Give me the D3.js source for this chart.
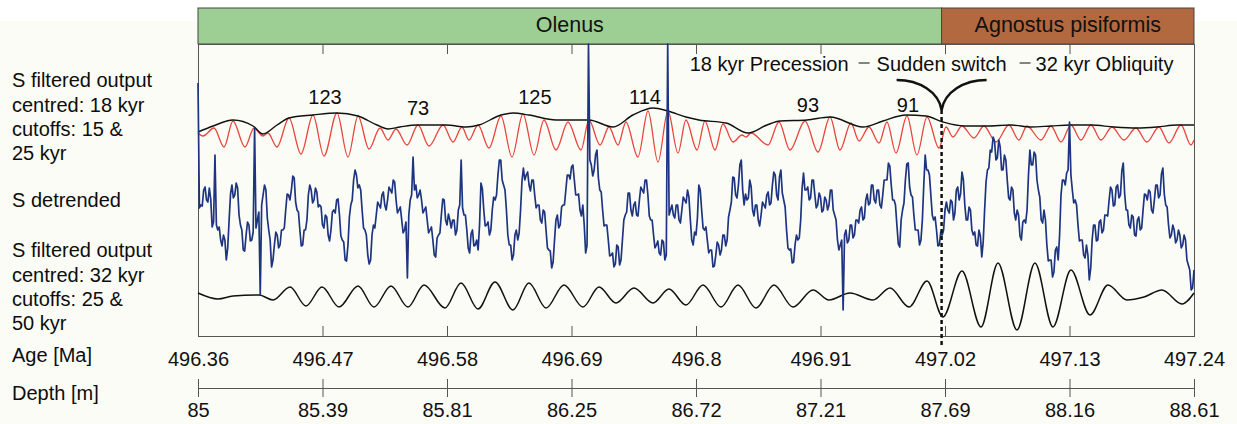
<!DOCTYPE html>
<html lang="en">
<head>
<meta charset="UTF-8">
<title>S record: precession to obliquity switch</title>
<script src="https://cdnjs.cloudflare.com/ajax/libs/d3/7.8.5/d3.min.js"></script>
<style>
    body {
        margin: 0;
        background-color: #fcfcf6;
    }
    svg {
        display: block;
        font-family: "Liberation Sans", Arial, Helvetica, sans-serif;
    }
    .axis path, .axis line {
        stroke: #555;
    }
    .axis text {
        font-family: "Liberation Sans", Arial, Helvetica, sans-serif;
        font-size: 20px;
        fill: #111;
    }
    .label {
        font-size: 20px;
        fill: #0d0d0d;
    }
</style>
</head>
<body>
<div id="chart"></div>
<script>
    // ---- data ----
    const ageTicks = [496.36, 496.47, 496.58, 496.69, 496.8, 496.91, 497.02, 497.13, 497.24];
    const ageTickLabels = ["496.36", "496.47", "496.58", "496.69", "496.8", "496.91", "497.02", "497.13", "497.24"];
    const depthTicks = [85, 85.39, 85.81, 86.25, 86.72, 87.21, 87.69, 88.16, 88.61];
    const depthTickLabels = ["85", "85.39", "85.81", "86.25", "86.72", "87.21", "87.69", "88.16", "88.61"];

    const ageStart = 496.36;          // Ma, times below are kyr after this
    const switchAge = 497.017;        // Ma, biozone boundary / sudden switch
    const zoneNames = ["Olenus", "Agnostus pisiformis"];
    const zoneFrom = [496.36, 497.017];
    const zoneTo = [497.017, 497.24];

    // 18 kyr band-pass output (turning points)
    const prec18Kyr = [0, 4.4, 14.1, 23.0, 30.9, 41.5, 49.5, 57.4, 61.8, 69.8,
        80.4, 91.0, 101.6, 111.3, 122.8, 132.5, 141.4, 151.1, 160.8, 167.9,
        174.9, 184.7, 194.4, 204.1, 216.5, 225.3, 233.2, 239.4, 247.4, 257.1,
        267.7, 277.4, 287.1, 296.9, 305.7, 316.3, 326.9, 338.4, 345.4, 355.2,
        363.1, 371.1, 378.1, 388.7, 397.6, 406.4, 415.2, 424.1, 431.1, 440.9,
        447.9, 456.8, 463.8, 472.7, 480.6, 484.2, 488.6, 503.6, 513.3, 523.0,
        536.3, 547.8, 558.4, 567.2, 576.9, 584.0, 592.8, 601.7, 608.7, 616.7,
        626.4, 635.2, 644.1, 654.7, 660.9, 667.0, 675.0, 685.6, 694.4, 705.0,
        716.5, 725.3, 732.4, 744.8, 753.6, 762.5, 771.3, 780.1, 789.0, 797.8,
        807.5, 818.1, 828.7, 838.4, 849.0, 857.9, 868.5, 877.3, 880.0];
    const prec18Val = [2, -1, 7, -12, 14, -12, 7, -1, 2, -12,
        17, -19, 20, -21, 22, -22, 19, -14, 7, -5,
        6, -10, 10, -11, 10, -7, 8, -5, 10, -13,
        19, -22, 21, -20, 15, -15, 13, -15, 15, -10,
        8, -10, 13, -22, 24, -27, 24, -18, 15, -15,
        14, -15, 11, -7, 0, -2, 2, -10, 13, -15,
        14, -17, 18, -15, 12, -6, 8, -8, 13, -18,
        19, -20, 18, -13, 8, -2, 9, -3, 9, -7,
        10, -5, 9, -5, 9, -7, 10, -5, 10, -5,
        8, -5, 7, -7, 8, -8, 10, -10, -5];

    // amplitude envelope of the 18 kyr output
    const env18Kyr = [0, 13.3, 30.9, 48.6, 57.4, 69.8, 80.4, 101.6, 122.8, 141.4,
        158.1, 167.9, 178.5, 193.5, 219.1, 236.8, 248.3, 267.7, 278.3, 292.4,
        316.3, 345.4, 366.7, 384.3, 402.0, 415.2, 431.1, 442.6, 466.5, 485.9,
        502.7, 514.2, 538.1, 558.4, 587.5, 605.2, 625.5, 643.2, 658.2, 676.8,
        697.1, 718.3, 735.9, 753.6, 770.4, 789.0, 809.3, 829.6, 847.3, 865.0, 880.0];
    const env18Val = [3, 9, 15, 9, 1, 10, 17, 20, 22, 19,
        10, 6, 8, 10, 10, 8, 10, 20, 22, 20,
        15, 15, 8, 20, 27, 24, 18, 15, 12, 2,
        10, 14, 15, 18, 8, 14, 20, 19, 13, 9,
        9, 10, 8, 9, 10, 10, 8, 7, 8, 10, 10];

    // cycle lengths (kyr) written on the envelope
    const cycleLabels = ["123", "73", "125", "114", "93", "91"];
    const cycleKyr = [112.2, 194.4, 297.7, 394.9, 538.9, 627.3];
    const cycleLevel = [31, 20, 31, 31, 23, 23];

    // S detrended, one value every 2.5 kyr ...
    const sStepKyr = 2.5;
    const sDetrended = [
        117, -5, 10, 0, 12, -27, 45, -30, -40, -35,
        -60, -20, 15, 5, 12, -25, -50, -35, -25, -40,
        72, -20, -95, 5, 10, -30, -67, -45, -35, -45,
        -30, -10, 5, 10, 22, -10, -30, -45, -30, 5,
        10, 0, 8, -5, -25, -15, -35, -30, -10, 0,
        -15, -40, -60, -45, -5, 20, 25, 15, -10, -30,
        -55, -60, -25, -15, -5, 5, -5, 0, 10, 20,
        0, -10, -20, -30, -78, 0, 43, 15, 5, 0,
        -10, -20, -30, -40, -57, -35, -15, 0, -25, -20,
        -20, -35, -10, 40, -15, -30, -53, -30, -45, -50,
        17, -10, -25, -35, -10, 0, 25, 40, 15, -10,
        -45, -60, -35, -40, -10, 32, 25, 15, 20, 5,
        -5, -20, -10, -30, -50, -68, -40, -15, -25, -5,
        10, 25, 33, 20, 5, -10, -5, -53, 156, 35,
        30, 50, 10, -10, -25, -40, -55, -67, -45, -65,
        -40, -15, 7, -10, -5, -15, 0, 10, 20, 5,
        -20, -35, -45, -53, -40, -60, 156, -10, -15, -5,
        -20, -10, 0, 10, -20, -45, -35, 15, -10, -30,
        -40, -50, -67, -55, -45, -50, -35, -40, -10, 23,
        5, 15, 40, -5, 0, 20, -10, -5, -20, -15,
        -5, 5, -5, 15, 25, 0, 30, 0, -30, -50,
        -63, -45, -40, -20, 27, 10, 0, 20, 5, -5,
        3, -10, 0, -5, 10, -15, -40, -45, -110, -30,
        -40, -25, -35, -20, -10, -20, 0, -5, 15, 0,
        10, -5, 5, 20, 37, 15, 0, -25, -47, -10,
        20, 37, 5, -15, -30, -45, -20, 45, 30, 5,
        -20, -30, -45, -35, -10, -10, 0, -20, 10, 0,
        28, -5, -20, -10, -35, -45, -30, -57, -10, 30,
        50, 63, 40, 60, 30, 45, 20, 0, 10, -20,
        -15, -40, -20, -10, 50, 35, 45, 10, -20, -10,
        -45, -60, -77, -50, -60, 5, 20, 27, 78, 10,
        0, -25, -40, -55, -45, -80, -40, -25, -40, -20,
        -30, -15, 0, 10, -5, 15, 5, 37, -10, -25,
        -15, -35, -20, -30, -10, 5, 10, -10, 0, 15,
        5, 32, -5, -25, -35, -30, -40, -35, -45, -40,
        -65, -90, -70];
    // ... and the short-scale wiggle read half way between those samples
    const sDetrendedMid = [
        -8, -6, 13, -2, 1, -22, -25, -27, -46, -40,
        -48, 6, 2, 17, -15, -30, -51, -22, -41, -32,
        -28, -12, -5, 15, -18, -40, -60, -32, -48, -30,
        -28, 6, 0, 24, -2, -12, -46, -30, -20, 15,
        -3, 12, -7, -7, -28, -17, -41, -12, -13, 1,
        -36, -42, -61, -17, 0, 30, 12, 10, -28, -35,
        -64, -35, -28, -2, -8, 8, -10, 13, 7, 18,
        -13, -7, -33, -22, -15, 5, 10, 2, 10, -13,
        -7, -33, -27, -55, -38, -33, 1, -20, -14, -28,
        -20, -30, -5, -8, -15, -48, -34, -46, -40, -25,
        11, -26, -22, -30, 3, 5, 40, 20, 10, -35,
        -45, -55, -30, -33, 19, 20, 28, 9, 20, -8,
        -5, -23, -12, -48, -51, -62, -20, -28, -7, -5,
        25, 21, 35, 5, 6, -16, -25, -45, 40, 24,
        45, 22, 8, -26, -25, -56, -53, -64, -47, -60,
        -20, -12, 7, -16, -2, -16, 13, 7, 20, -16,
        -20, -48, -41, -55, -42, -55, -15, -5, -18, -5,
        -23, 3, -3, 3, -40, -32, -18, 10, -28, -27,
        -53, -50, -66, -42, -55, -35, -46, -17, -2, 22,
        2, 35, 10, 6, 2, 13, -16, -5, -26, -2,
        -8, 8, -3, 28, 5, 23, 7, -7, -48, -49,
        -62, -35, -38, 12, 10, 13, 2, 20, -8, 7,
        -12, 3, -10, 10, -10, -20, -50, -40, -35, -43,
        -25, -38, -20, -23, -7, -18, 6, -3, 15, -3,
        10, -8, 20, 20, 34, 0, -5, -44, -20, -3,
        36, 13, 3, -30, -30, -40, 15, 30, 25, -15,
        -17, -46, -32, -30, -2, -13, -2, -13, 13, 6,
        20, -20, -7, -30, -32, -46, -36, -42, 18, 32,
        48, 59, 42, 53, 30, 40, 2, 13, -13, -10,
        -36, -22, -23, 25, 35, 48, 20, 3, -23, -20,
        -61, -60, -72, -47, -35, 20, 15, 30, 25, -3,
        -5, -41, -40, -58, -55, -68, -25, -41, -22, -33,
        -15, -16, 13, -6, 13, 2, 29, 6, -10, -28,
        -17, -36, -17, -28, 6, 0, 8, -13, 15, 2,
        26, 6, -7, -38, -25, -43, -30, -48, -35, -60,
        -70, -88];

    // 32 kyr band-pass output (turning points)
    const obl32Kyr = [0, 17.7, 30.9, 53.9, 66.3, 81.3, 95.4, 109.6, 124.6, 141.4,
        155.5, 170.5, 185.5, 199.7, 218.2, 232.4, 247.4, 262.4, 278.3, 292.4,
        307.5, 323.4, 340.1, 354.3, 369.3, 385.2, 402.0, 416.1, 431.1, 446.2,
        462.1, 477.1, 493.0, 508.9, 525.7, 543.4, 557.5, 576.0, 596.4, 611.4,
        628.2, 644.1, 658.2, 675.0, 691.8, 706.8, 723.6, 739.5, 755.4, 771.3,
        788.1, 804.0, 820.8, 835.8, 851.7, 869.4, 880.0];
    const obl32Val = [4, -2, 1, 2, -3, 10, -9, 10, -10, 11,
        -10, 11, -10, 12, -11, 14, -12, 15, -13, 14,
        -11, 12, -10, 10, -6, 9, -6, 8, -8, 12,
        -10, 12, -11, 12, -10, 7, -3, 4, -3, 9,
        -10, 16, -20, 26, -30, 34, -33, 34, -30, 27,
        -18, 12, -3, 0, 7, -7, 4];

    const zoneFill = ["#9dcf95", "#b36940"];
    const leftLabels = [
        ["S filtered output", "centred: 18 kyr", "cutoffs: 15 &", "25 kyr"],
        ["S detrended"],
        ["S filtered output", "centred: 32 kyr", "cutoffs: 25 &", "50 kyr"]
    ];

    // ---- layout ----
    const width = 1237, height = 424;
    const margin = { top: 44, right: 43, bottom: 88, left: 198 };
    const plotRight = width - margin.right;
    const plotBottom = height - margin.bottom;

    const svg = d3.select("#chart").append("svg")
        .attr("width", width)
        .attr("height", height);

    svg.append("rect")
        .attr("width", width)
        .attr("height", 21)
        .attr("fill", "#ffffff");

    const x = d3.scaleLinear().domain([ageTicks[0], ageTicks[ageTicks.length - 1]]).range([margin.left, plotRight]);
    const depth = d3.scaleLinear().domain(depthTicks).range(ageTicks.map(x));
    const ageOf = k => ageStart + k / 1000;

    const y18 = d3.scaleLinear().domain([-40, 40]).range([175, 95]);
    const yS = d3.scaleLinear().domain([-156, 156]).range([356, 44]);
    const y32 = d3.scaleLinear().domain([-40, 40]).range([337, 257]);

    // biozone band
    const band = svg.append("g");
    zoneNames.forEach((name, i) => {
        band.append("rect")
            .attr("x", x(zoneFrom[i]))
            .attr("y", 8)
            .attr("width", x(zoneTo[i]) - x(zoneFrom[i]))
            .attr("height", margin.top - 8)
            .attr("fill", zoneFill[i])
            .attr("stroke", "#444")
            .attr("stroke-width", 1);
        band.append("text")
            .attr("x", (x(zoneFrom[i]) + x(zoneTo[i])) / 2)
            .attr("y", 32)
            .attr("text-anchor", "middle")
            .attr("font-size", 21.5)
            .attr("fill", "#111")
            .text(name);
    });

    // frame
    svg.append("rect")
        .attr("x", margin.left + 0.5)
        .attr("y", margin.top + 0.5)
        .attr("width", plotRight - margin.left)
        .attr("height", plotBottom - margin.top)
        .attr("fill", "none")
        .attr("stroke", "#555");

    // inner ticks top and bottom
    const inner = ageTicks.slice(1, -1);
    svg.append("g")
        .attr("class", "axis")
        .attr("transform", `translate(0,${margin.top})`)
        .call(d3.axisTop(x).tickValues(inner).tickSizeInner(-10).tickSizeOuter(0).tickFormat(""))
        .call(g => g.select(".domain").remove());

    svg.append("g")
        .attr("class", "axis")
        .attr("transform", `translate(0,${plotBottom})`)
        .call(d3.axisBottom(x).tickValues(ageTicks).tickSizeInner(-10).tickSizeOuter(0)
            .tickPadding(15.5).tickFormat((d, i) => ageTickLabels[i]))
        .call(g => g.select(".domain").remove())
        .call(g => g.selectAll(".tick line").filter((d, i) => i === 0 || i === ageTicks.length - 1).remove());

    // depth axis
    const depthY = 388;
    svg.append("g")
        .attr("class", "axis")
        .attr("transform", `translate(0,${depthY})`)
        .call(d3.axisTop(depth).tickValues(depthTicks).tickSize(9).tickFormat(""))
        .call(g => g.select(".domain").remove());
    svg.append("g")
        .attr("class", "axis")
        .attr("transform", `translate(0,${depthY})`)
        .call(d3.axisBottom(depth).tickValues(depthTicks).tickSize(9).tickSizeOuter(0)
            .tickPadding(6).tickFormat((d, i) => depthTickLabels[i]));

    // series
    const smooth = (scale) => d3.line()
        .x(d => x(ageOf(d[0])))
        .y(d => scale(d[1]))
        .curve(d3.curveMonotoneX);

    svg.append("path")
        .datum(prec18Kyr.map((k, i) => [k, prec18Val[i]]))
        .attr("fill", "none")
        .attr("stroke", "#e8453d")
        .attr("stroke-width", 1.3)
        .attr("d", smooth(y18));

    svg.append("path")
        .datum(env18Kyr.map((k, i) => [k, env18Val[i]]))
        .attr("fill", "none")
        .attr("stroke", "#111")
        .attr("stroke-width", 1.4)
        .attr("d", smooth(y18));

    svg.append("path")
        .datum(obl32Kyr.map((k, i) => [k, obl32Val[i]]))
        .attr("fill", "none")
        .attr("stroke", "#111")
        .attr("stroke-width", 1.5)
        .attr("d", smooth(y32));

    const sPoints = [];
    sDetrended.forEach((v, i) => {
        sPoints.push([i * sStepKyr, v]);
        if (i < sDetrendedMid.length) sPoints.push([(i + 0.5) * sStepKyr, sDetrendedMid[i]]);
    });
    svg.append("path")
        .datum(sPoints)
        .attr("fill", "none")
        .attr("stroke", "#1d3480")
        .attr("stroke-width", 1.7)
        .attr("stroke-linejoin", "round")
        .attr("d", d3.line().x(d => x(ageOf(d[0]))).y(d => yS(d[1])));

    // cycle length labels
    svg.selectAll(".cycle")
        .data(cycleLabels)
        .join("text")
        .attr("class", "label")
        .attr("x", (d, i) => x(ageOf(cycleKyr[i])))
        .attr("y", (d, i) => y18(cycleLevel[i]))
        .attr("text-anchor", "middle")
        .text(d => d);

    // switch annotation
    const sx = x(switchAge);
    const apexY = 110;
    svg.append("line")
        .attr("x1", sx).attr("x2", sx)
        .attr("y1", apexY).attr("y2", 345)
        .attr("stroke", "#111")
        .attr("stroke-width", 2.5)
        .attr("stroke-dasharray", "4,3");

    svg.append("path")
        .attr("d", `M${sx - 45},80 C${sx - 22},80 ${sx - 3},92 ${sx},${apexY} ` +
                   `M${sx},${apexY} C${sx + 3},92 ${sx + 22},80 ${sx + 45},80`)
        .attr("fill", "none")
        .attr("stroke", "#111")
        .attr("stroke-width", 2.5);

    const ann = svg.append("g").attr("class", "label");
    ann.append("text").attr("x", sx).attr("y", 71).attr("text-anchor", "middle").text("Sudden switch");
    ann.append("text").attr("x", sx - 93).attr("y", 71).attr("text-anchor", "end").text("18 kyr Precession");
    ann.append("text").attr("x", sx + 94).attr("y", 71).attr("text-anchor", "start").text("32 kyr Obliquity");
    [[sx - 83, sx - 72], [sx + 78, sx + 89]].forEach(([a, b]) => {
        ann.append("line")
            .attr("x1", a).attr("x2", b)
            .attr("y1", 63).attr("y2", 63)
            .attr("stroke", "#333")
            .attr("stroke-width", 1.2);
    });

    // left labels
    const blockTop = [87.3, 206.5, 257.3];
    leftLabels.forEach((lines, b) => {
        const t = svg.append("text").attr("class", "label").attr("x", 12).attr("y", blockTop[b]);
        lines.forEach((line, i) => {
            t.append("tspan").attr("x", 12).attr("dy", i === 0 ? 0 : 24.3).text(line);
        });
    });
    svg.append("text").attr("class", "label").attr("x", 12).attr("y", 362).text("Age [Ma]");
    svg.append("text").attr("class", "label").attr("x", 12).attr("y", 400).text("Depth [m]");
</script>
</body>
</html>
